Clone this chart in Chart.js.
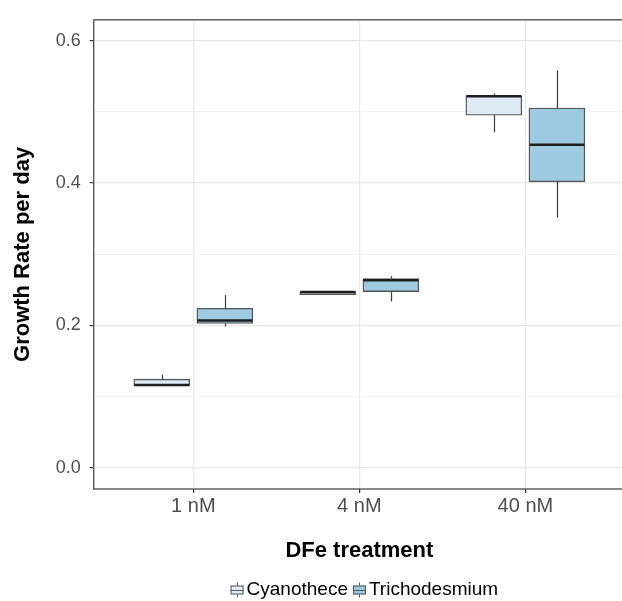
<!DOCTYPE html>
<html>
<head>
<meta charset="utf-8">
<script src="https://cdn.jsdelivr.net/npm/chart.js@4.4.1/dist/chart.umd.min.js"></script>
<style>
  html, body { margin: 0; padding: 0; overflow: hidden; background: #ffffff; }
  #wrap { width: 632px; height: 601px; }
</style>
</head>
<body>
<div id="wrap"><canvas id="growth" width="632" height="601"></canvas></div>
<script>
// Treatments and species
const treatments = ['1 nM', '4 nM', '40 nM'];
const species = ['Cyanothece', 'Trichodesmium'];

// Five-number summaries, one value per treatment
const cyanoMin    = [0.1152, 0.2433, 0.4715];
const cyanoQ1     = [0.1152, 0.2433, 0.4954];
const cyanoMedian = [0.1161, 0.2468, 0.5220];
const cyanoQ3     = [0.1244, 0.2475, 0.5226];
const cyanoMax    = [0.1308, 0.2475, 0.5258];

const trichoMin    = [0.1985, 0.2336, 0.3512];
const trichoQ1     = [0.2027, 0.2475, 0.4018];
const trichoMedian = [0.2068, 0.2635, 0.4539];
const trichoQ3     = [0.2240, 0.2659, 0.5055];
const trichoMax    = [0.2428, 0.2690, 0.5585];

// Axis ticks
const yTicks = [0.0, 0.2, 0.4, 0.6];
const yLimits = [-0.030, 0.6295];
const xLimits = [0.4, 3.6];

const FONT = "'Liberation Sans', Arial, sans-serif";
const fills = ['#deebf7', '#9ecae1'];
const dodge = 0.19;

const stats = [
  { min: cyanoMin, q1: cyanoQ1, med: cyanoMedian, q3: cyanoQ3, max: cyanoMax },
  { min: trichoMin, q1: trichoQ1, med: trichoMedian, q3: trichoQ3, max: trichoMax }
];

function boxes(s, side) {
  return s.q1.map((lo, i) => ({ x: i + 1 + side * dodge, y: [lo, s.q3[i]] }));
}

const isMajor = v => yTicks.some(t => Math.abs(t - v) < 1e-9);

// Whiskers and median lines drawn on top of the boxes
const boxDetails = {
  id: 'boxDetails',
  afterDatasetsDraw(chart) {
    const { ctx, scales: { y } } = chart;
    ctx.save();
    chart.data.datasets.forEach((ds, di) => {
      const s = stats[di];
      chart.getDatasetMeta(di).data.forEach((bar, i) => {
        const cx = Math.round(bar.x) + 0.5;
        const half = bar.width / 2;
        ctx.strokeStyle = '#3a3a3a';
        ctx.lineWidth = 1.2;
        ctx.beginPath();
        ctx.moveTo(cx, y.getPixelForValue(s.q3[i]));
        ctx.lineTo(cx, y.getPixelForValue(s.max[i]));
        ctx.moveTo(cx, y.getPixelForValue(s.q1[i]));
        ctx.lineTo(cx, y.getPixelForValue(s.min[i]));
        ctx.stroke();
        ctx.strokeStyle = '#1f1f1f';
        ctx.lineWidth = 2.5;
        ctx.beginPath();
        const my = y.getPixelForValue(s.med[i]);
        ctx.moveTo(bar.x - half + 0.5, my);
        ctx.lineTo(bar.x + half - 0.5, my);
        ctx.stroke();
      });
    });
    ctx.restore();
  },
  afterDraw(chart) {
    const { ctx, chartArea: a } = chart;
    ctx.save();
    // panel border
    ctx.strokeStyle = '#4a4a4a';
    ctx.lineWidth = 1.3;
    ctx.strokeRect(a.left, a.top, a.right - a.left, a.bottom - a.top);

    // legend along the bottom
    ctx.font = '19px ' + FONT;
    ctx.textBaseline = 'alphabetic';
    ctx.textAlign = 'left';
    const keyW = 17, gapAfterKey = 1, gapBetween = 3;
    const widths = species.map(t => ctx.measureText(t).width);
    const total = widths.reduce((acc, w) => acc + keyW + gapAfterKey + w, 0) + gapBetween * (species.length - 1);
    let x = (a.left + a.right) / 2 + 4 - total / 2;
    const cy = 590;
    species.forEach((name, k) => {
      const bx0 = x + 2, bx1 = x + keyW - 2;
      const top = cy - 4.5, bot = cy + 4.5;
      ctx.fillStyle = fills[k];
      ctx.fillRect(bx0, top, bx1 - bx0, bot - top);
      ctx.strokeStyle = '#555555';
      ctx.lineWidth = 1;
      ctx.strokeRect(bx0 + 0.5, top + 0.5, bx1 - bx0 - 1, bot - top - 1);
      ctx.beginPath();
      ctx.moveTo(bx0, cy + 0.5); ctx.lineTo(bx1, cy + 0.5);
      const mx = Math.round(x + keyW / 2) + 0.5;
      ctx.moveTo(mx, top - 3); ctx.lineTo(mx, top);
      ctx.moveTo(mx, bot); ctx.lineTo(mx, bot + 3);
      ctx.stroke();
      x += keyW + gapAfterKey;
      ctx.fillStyle = '#000000';
      ctx.fillText(name, x, 594.5);
      x += widths[k] + gapBetween;
    });
    ctx.restore();
  }
};

new Chart(document.getElementById('growth'), {
  type: 'bar',
  data: {
    datasets: species.map((name, k) => ({
      label: name,
      data: boxes(stats[k], k === 0 ? -1 : 1),
      backgroundColor: fills[k],
      borderColor: '#555555',
      borderWidth: 1.4,
      borderSkipped: false,
      grouped: false,
      barThickness: 56
    }))
  },
  options: {
    responsive: false,
    animation: false,
    events: [],
    layout: { padding: { top: 12, right: 7, bottom: 30, left: 0 } },
    plugins: { legend: { display: false }, tooltip: { enabled: false } },
    scales: {
      x: {
        type: 'linear',
        min: xLimits[0],
        max: xLimits[1],
        offset: false,
        afterBuildTicks: s => { s.ticks = treatments.map((_, i) => ({ value: i + 1 })); },
        afterFit: s => { s.height = 82; },
        ticks: {
          callback: (v, i) => treatments[i],
          color: '#4d4d4d',
          font: { family: FONT, size: 20 },
          padding: 1,
          maxRotation: 0,
          autoSkip: false
        },
        grid: { offset: false, color: '#e8e8e8', lineWidth: 1.2, tickColor: '#333333', tickLength: 4, tickWidth: 1.2 },
        border: { display: false },
        title: {
          display: true,
          text: 'DFe treatment',
          color: '#000000',
          font: { family: FONT, size: 22, weight: 'bold' },
          padding: { top: 0, bottom: 7 }
        }
      },
      y: {
        type: 'linear',
        min: yLimits[0],
        max: yLimits[1],
        afterBuildTicks: s => {
          const t = [];
          yTicks.forEach((v, i) => {
            t.push({ value: v });
            if (i < yTicks.length - 1) t.push({ value: (v + yTicks[i + 1]) / 2 });
          });
          s.ticks = t;
        },
        afterFit: s => { s.width = 93.7; },
        ticks: {
          callback: v => isMajor(v) ? v.toFixed(1) : '',
          color: '#4d4d4d',
          font: { family: FONT, size: 18 },
          padding: 9,
          autoSkip: false
        },
        grid: {
          color: c => isMajor(c.tick.value) ? '#e8e8e8' : '#f3f3f3',
          lineWidth: c => isMajor(c.tick.value) ? 1.2 : 1,
          tickColor: c => isMajor(c.tick.value) ? '#333333' : 'rgba(0,0,0,0)',
          tickLength: 4,
          tickWidth: 1.2
        },
        border: { display: false },
        title: {
          display: true,
          text: 'Growth Rate per day',
          color: '#000000',
          font: { family: FONT, size: 22, weight: 'bold' },
          padding: { top: 10, bottom: 0 }
        }
      }
    }
  },
  plugins: [boxDetails]
});
</script>
</body>
</html>
